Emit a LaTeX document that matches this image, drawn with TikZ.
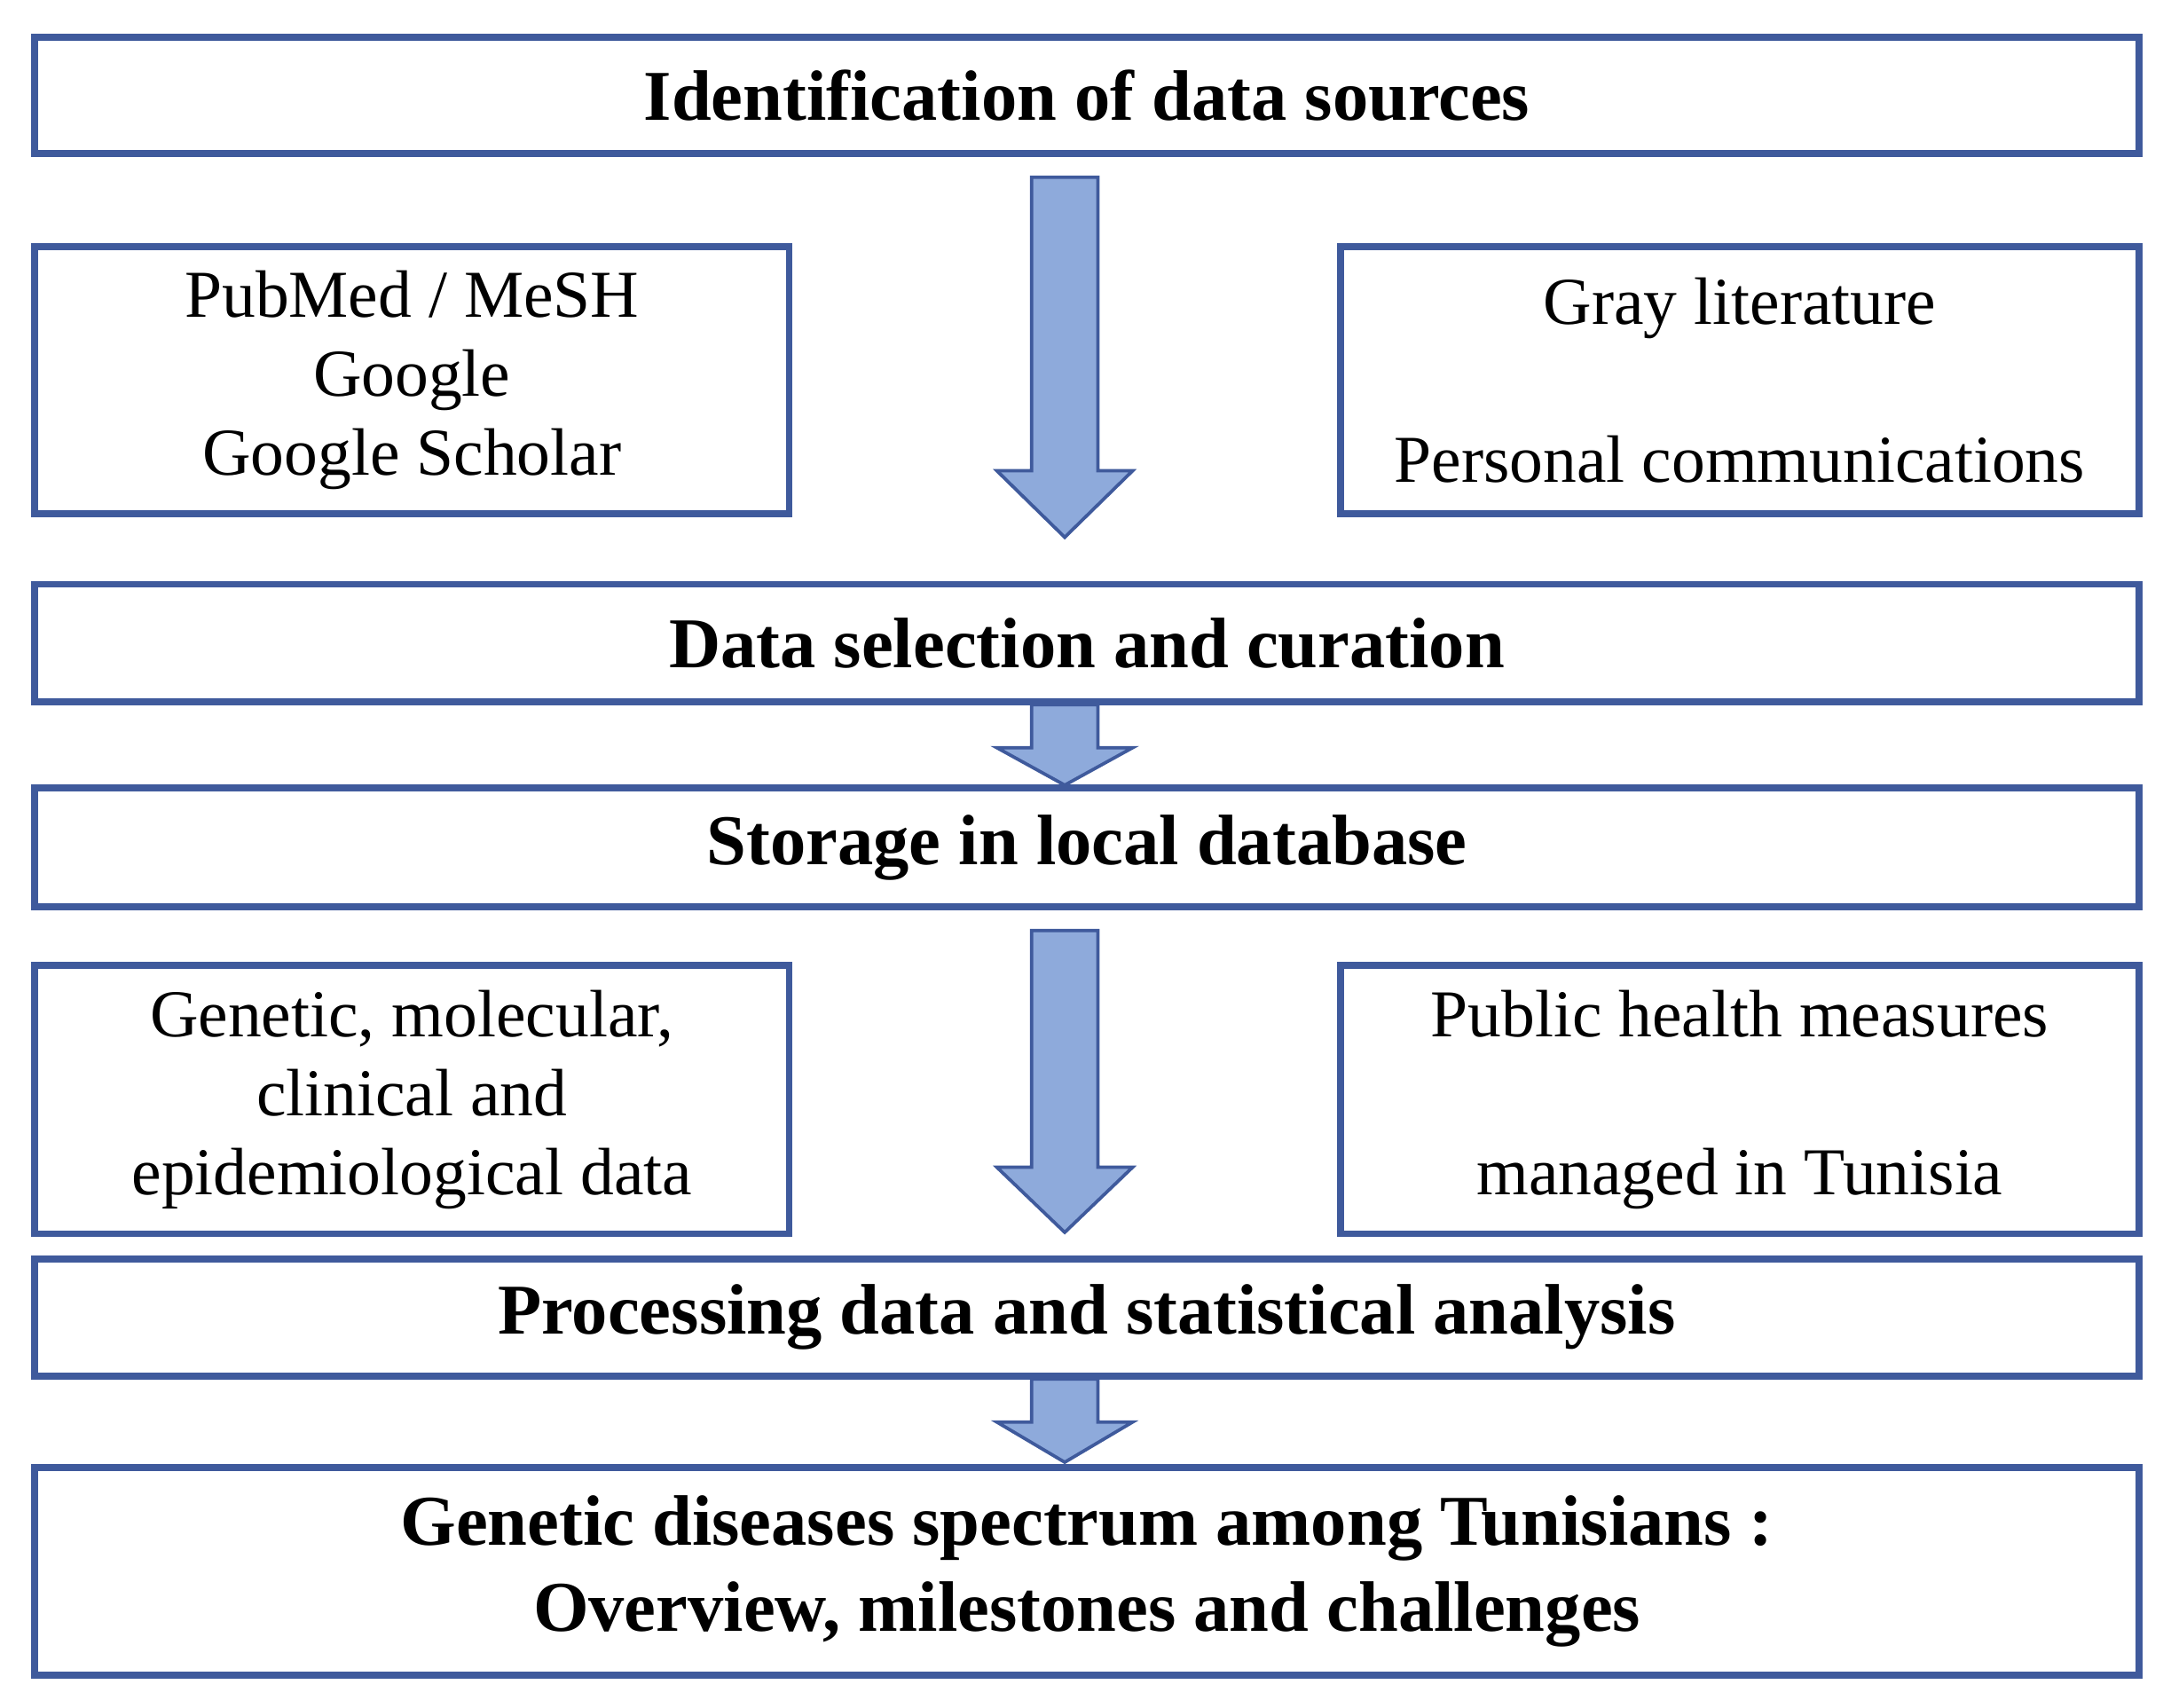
\documentclass[tikz,border=0pt]{standalone}
\usepackage{fontspec}
\setmainfont{Liberation Serif}
\definecolor{boxblue}{HTML}{3F5A9C}
\definecolor{arrowfill}{HTML}{8EAADB}
\tikzset{
  wide/.style={draw=boxblue, line width=2.5pt, minimum width=760pt, align=center, font=\fontsize{25.8}{31}\selectfont\bfseries, inner sep=0pt},
  side/.style={draw=boxblue, line width=2.5pt, align=center, font=\fontsize{24.2}{28.5}\selectfont, inner sep=0pt},
  blockarrow/.style={draw=boxblue, fill=arrowfill, line width=1.2pt, line join=miter}
}
% block arrow: y top, y of head start, y tip
\newcommand{\blockarr}[3]{%
  \draw[blockarrow] (745,#1) -- (793,#1) -- (793,#2) -- (818,#2) -- (769,#3) -- (720,#2) -- (745,#2) -- cycle;}
\begin{document}
\begin{tikzpicture}[x=0.5pt,y=-0.5pt]
  \useasboundingbox (0,0) rectangle (1568,1233);

  \node[wide, minimum height=42pt] (ident) at (785,69) {Identification of data sources};
  \node[side, minimum width=272.5pt, minimum height=96.5pt] (pubmed) at (297.5,274.5)
    {PubMed / MeSH\\Google\\Google Scholar};
  \node[side, minimum width=288.5pt, minimum height=96.5pt] (gray) at (1256.5,274.5)
    {Gray literature\\[28.5pt]Personal communications};
  \node[wide, minimum height=42.5pt] (select) at (785,464.5) {Data selection and curation};
  \node[wide, minimum height=43pt] (store) at (785,612) {Storage in local database};
  \node[side, minimum width=272.5pt, minimum height=97pt] (genetic) at (297.5,794)
    {Genetic, molecular,\\clinical and\\epidemiological data};
  \node[side, minimum width=288.5pt, minimum height=97pt] (health) at (1256.5,794)
    {Public health measures\\[28.5pt]managed in Tunisia};
  \node[wide, minimum height=42.5pt] (process) at (785,951.5) {Processing data and statistical analysis};
  \node[wide, minimum height=75pt] (result) at (785,1135)
    {Genetic diseases spectrum among Tunisians :\\Overview, milestones and challenges};

  \blockarr{128}{340}{388}
  \blockarr{509}{540}{567}
  \blockarr{672}{843}{890}
  \blockarr{996}{1027}{1056}
\end{tikzpicture}
\end{document}
